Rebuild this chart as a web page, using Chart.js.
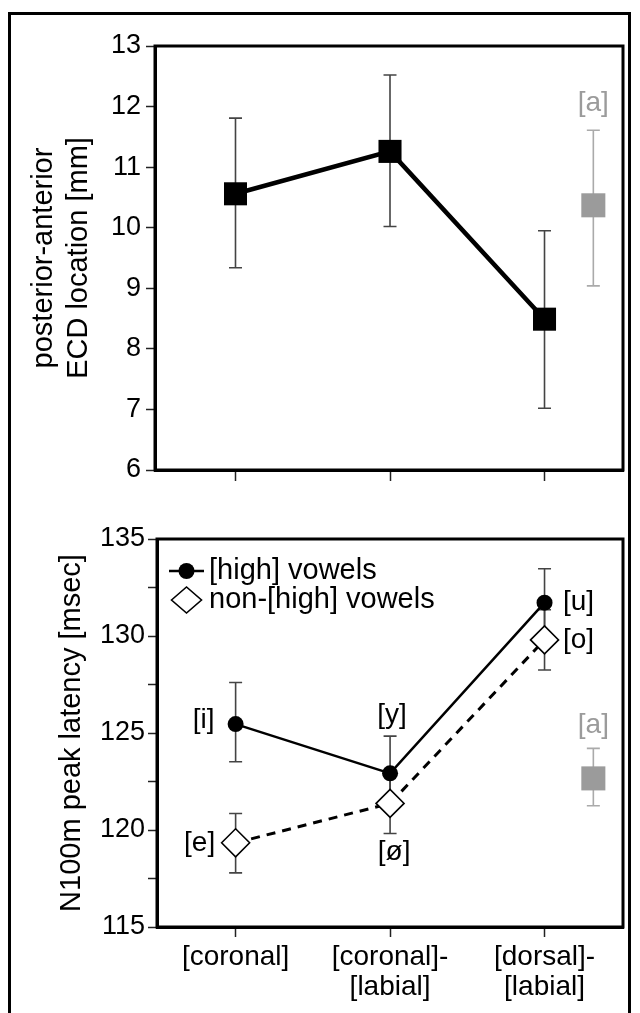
<!DOCTYPE html>
<html>
<head>
<meta charset="utf-8">
<script src="https://cdn.jsdelivr.net/npm/chart.js@4.4.1/dist/chart.umd.min.js"></script>
<style>
  html, body { margin: 0; padding: 0; background: #fff; }
  #wrap { position: relative; width: 640px; height: 1013px; overflow: hidden; }
  #wrap canvas { position: absolute; left: 0; top: 0; }
  #frame { position: absolute; left: 8px; top: 12px; width: 617px; height: 1030px; border: 3px solid #000; }
</style>
</head>
<body>
<div id="wrap">
  <div id="frame"></div>
  <canvas id="ecdChart" width="640" height="1013"></canvas>
  <canvas id="latencyChart" width="640" height="1013"></canvas>
</div>
<script>
// place of articulation categories (x positions 0, 1, 2) and the [a] reference column
const categories = [['[coronal]'], ['[coronal]-', '[labial]'], ['[dorsal]-', '[labial]']]
const catPos = [0, 1, 2]
const refPos = 2.316

// top panel: posterior-anterior ECD location [mm]
const ecdMean = [10.56, 11.26, 8.49]
const ecdUpper = [11.81, 12.52, 9.95]
const ecdLower = [9.34, 10.02, 7.02]
const ecdRef = [10.37]
const ecdRefUpper = [11.61]
const ecdRefLower = [9.04]

// bottom panel: N100m peak latency [msec]
const highLatency = [125.46, 122.92, 131.72]
const highUpper = [127.60, 124.84, 133.47]
const highLower = [123.52, 121.00, 129.90]
const nonHighLatency = [119.34, 121.37, 129.80]
const nonHighUpper = [120.85, 122.90, 131.35]
const nonHighLower = [117.79, 119.82, 128.25]
const latRef = [122.66]
const latRefUpper = [124.21]
const latRefLower = [121.25]

const highVowels = ['[i]', '[y]', '[u]']
const nonHighVowels = ['[e]', '[ø]', '[o]']
const refVowel = ['[a]']

const FONT = '"Liberation Sans", Arial, Helvetica, sans-serif'
const GREY = '#9b9b9b'
Chart.defaults.font.family = FONT
Chart.defaults.color = '#000'

const pts = (xs, ys) => ys.map((v, i) => ({ x: xs[i], y: v }))

// vertical error bars with small caps, drawn under the markers
function errorBars(sets) {
  return {
    id: 'errorBars',
    beforeDatasetsDraw(chart) {
      const { ctx, scales: { x, y } } = chart
      ctx.save()
      ctx.lineWidth = 1.6
      sets.forEach(s => {
        ctx.strokeStyle = s.color
        s.x.forEach((xv, i) => {
          const px = x.getPixelForValue(xv)
          const top = y.getPixelForValue(s.hi[i])
          const bot = y.getPixelForValue(s.lo[i])
          ctx.beginPath()
          ctx.moveTo(px, top); ctx.lineTo(px, bot)
          ctx.moveTo(px - 6.5, top); ctx.lineTo(px + 6.5, top)
          ctx.moveTo(px - 6.5, bot); ctx.lineTo(px + 6.5, bot)
          ctx.stroke()
        })
      })
      ctx.restore()
    }
  }
}

// vowel labels next to the points
function vowelLabels(items) {
  return {
    id: 'vowelLabels',
    afterDatasetsDraw(chart) {
      const { ctx, scales: { x, y } } = chart
      ctx.save()
      ctx.font = '28px ' + FONT
      ctx.textAlign = 'center'
      ctx.textBaseline = 'middle'
      items.forEach(it => {
        ctx.fillStyle = it.color || '#000'
        it.text.forEach((t, i) => {
          ctx.fillText(t, x.getPixelForValue(it.x[i]) + it.dx[i], y.getPixelForValue(it.y[i]) + it.dy[i])
        })
      })
      ctx.restore()
    }
  }
}

// closed box around the plot area
const boxFrame = {
  id: 'boxFrame',
  afterDraw(chart) {
    const { ctx, chartArea: a } = chart
    ctx.save()
    ctx.strokeStyle = '#000'
    ctx.lineWidth = 3
    ctx.strokeRect(a.left, a.top, a.right - a.left, a.bottom - a.top)
    ctx.restore()
  }
}

// legend in the upper left of the latency plot
const innerLegend = {
  id: 'innerLegend',
  afterDatasetsDraw(chart) {
    const { ctx, chartArea: a } = chart
    const ds = chart.data.datasets
    const x0 = a.left + 12, x1 = a.left + 47, xm = (x0 + x1) / 2
    const y1 = a.top + 32, y2 = a.top + 61
    ctx.save()
    ctx.strokeStyle = '#000'
    ctx.fillStyle = '#000'
    ctx.lineWidth = 2.5
    ctx.beginPath(); ctx.moveTo(x0, y1); ctx.lineTo(x1, y1); ctx.stroke()
    ctx.beginPath(); ctx.arc(xm, y1, 8, 0, Math.PI * 2); ctx.fill()
    ctx.lineWidth = 1.6
    ctx.fillStyle = '#fff'
    ctx.beginPath()
    ctx.moveTo(xm - 15, y2); ctx.lineTo(xm, y2 - 13); ctx.lineTo(xm + 15, y2); ctx.lineTo(xm, y2 + 13)
    ctx.closePath(); ctx.fill(); ctx.stroke()
    ctx.fillStyle = '#000'
    ctx.font = '29px ' + FONT
    ctx.textAlign = 'left'
    ctx.textBaseline = 'middle'
    ctx.fillText(ds[0].label, a.left + 52, y1)
    ctx.fillText(ds[1].label, a.left + 52, y2)
    ctx.restore()
  }
}

const axisGrid = { drawOnChartArea: false, tickLength: 9, tickWidth: 1.5, tickColor: '#222' }
const axisBorder = { color: '#000', width: 3 }

new Chart(document.getElementById('ecdChart'), {
  type: 'line',
  data: {
    datasets: [
      {
        label: 'ECD location',
        data: pts(catPos, ecdMean),
        borderColor: '#000',
        borderWidth: 4.5,
        backgroundColor: '#000',
        pointStyle: 'rect',
        pointRadius: 16.3,
        pointBorderWidth: 0
      },
      {
        label: '[a]',
        data: pts([refPos], ecdRef),
        showLine: false,
        backgroundColor: GREY,
        borderColor: GREY,
        pointStyle: 'rect',
        pointRadius: 17,
        pointBorderWidth: 0
      }
    ]
  },
  options: {
    responsive: false,
    animation: false,
    layout: { padding: { top: 46, right: 11, bottom: 513, left: 0 } },
    plugins: { legend: { display: false }, tooltip: { enabled: false } },
    scales: {
      x: {
        type: 'linear',
        min: -0.521,
        max: 2.508,
        afterBuildTicks: s => { s.ticks = catPos.map(v => ({ value: v })) },
        afterFit: s => { s.height = 30 },
        ticks: { display: false },
        grid: { ...axisGrid, tickLength: 11 },
        border: axisBorder
      },
      y: {
        min: 6,
        max: 13,
        afterFit: s => { s.width = 155 },
        ticks: { stepSize: 1, padding: 5, font: { size: 27 }, color: '#000' },
        grid: axisGrid,
        border: axisBorder,
        title: {
          display: true,
          text: ['posterior-anterior', 'ECD location [mm]'],
          font: { size: 29 },
          color: '#000',
          padding: { top: 27, bottom: 0 }
        }
      }
    }
  },
  plugins: [
    errorBars([
      { x: catPos, hi: ecdUpper, lo: ecdLower, color: '#444' },
      { x: [refPos], hi: ecdRefUpper, lo: ecdRefLower, color: '#aaa' }
    ]),
    vowelLabels([
      { text: refVowel, x: [refPos], y: ecdRef, dx: [0], dy: [-102], color: GREY }
    ]),
    boxFrame
  ]
})

new Chart(document.getElementById('latencyChart'), {
  type: 'line',
  data: {
    datasets: [
      {
        label: '[high] vowels',
        data: pts(catPos, highLatency),
        borderColor: '#000',
        borderWidth: 2.5,
        backgroundColor: '#000',
        pointStyle: 'circle',
        pointRadius: 8,
        pointBorderWidth: 0
      },
      {
        label: 'non-[high] vowels',
        data: pts(catPos, nonHighLatency),
        borderColor: '#000',
        borderWidth: 3,
        borderDash: [9, 7],
        pointStyle: 'rectRot',
        pointRadius: 14,
        pointBackgroundColor: '#fff',
        pointBorderColor: '#000',
        pointBorderWidth: 1.6
      },
      {
        label: '[a]',
        data: pts([refPos], latRef),
        showLine: false,
        backgroundColor: GREY,
        borderColor: GREY,
        pointStyle: 'rect',
        pointRadius: 17,
        pointBorderWidth: 0
      }
    ]
  },
  options: {
    responsive: false,
    animation: false,
    layout: { padding: { top: 539, right: 11, bottom: 0, left: 0 } },
    plugins: { legend: { display: false }, tooltip: { enabled: false } },
    scales: {
      x: {
        type: 'linear',
        min: -0.509,
        max: 2.508,
        afterBuildTicks: s => { s.ticks = catPos.map(v => ({ value: v })) },
        afterFit: s => { s.height = 86 },
        ticks: {
          autoSkip: false,
          maxRotation: 0,
          padding: 6,
          font: { size: 28, lineHeight: 1.05 },
          color: '#000',
          callback: (v, i) => categories[i]
        },
        grid: { ...axisGrid, tickLength: 10 },
        border: axisBorder
      },
      y: {
        min: 115,
        max: 135,
        afterFit: s => { s.width = 157 },
        ticks: {
          stepSize: 2.5,
          padding: 3,
          font: { size: 27 },
          color: '#000',
          callback: v => (v % 5 === 0 ? v : '')
        },
        grid: axisGrid,
        border: axisBorder,
        title: {
          display: true,
          text: 'N100m peak latency [msec]',
          font: { size: 29 },
          color: '#000',
          padding: { top: 55, bottom: 0 }
        }
      }
    }
  },
  plugins: [
    errorBars([
      { x: catPos, hi: highUpper, lo: highLower, color: '#444' },
      { x: catPos, hi: nonHighUpper, lo: nonHighLower, color: '#444' },
      { x: [refPos], hi: latRefUpper, lo: latRefLower, color: '#aaa' }
    ]),
    vowelLabels([
      { text: highVowels, x: catPos, y: highLatency, dx: [-32, 2, 34], dy: [-4, -58, 0] },
      { text: nonHighVowels, x: catPos, y: nonHighLatency, dx: [-36, 4, 34], dy: [0, 49, 0] },
      { text: refVowel, x: [refPos], y: latRef, dx: [0], dy: [-53], color: GREY }
    ]),
    innerLegend,
    boxFrame
  ]
})
</script>
</body>
</html>
